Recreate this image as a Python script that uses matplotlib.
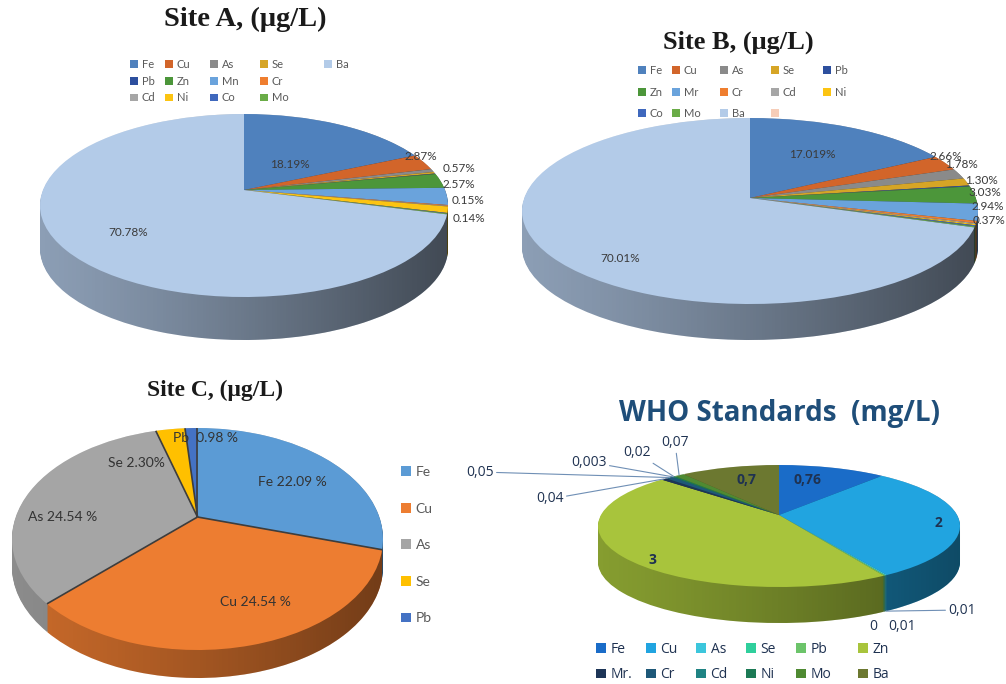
import numpy as np
import matplotlib
matplotlib.use("Agg")
import matplotlib.pyplot as plt
from matplotlib.transforms import Transform, Affine2D
from matplotlib.path import Path
from matplotlib.colors import to_rgb

# ---------------- data ----------------
a_elements = ['Fe', 'Cu', 'As', 'Se', 'Pb', 'Zn', 'Mn', 'Cr', 'Cd', 'Ni', 'Co', 'Mo', 'Ba']
a_values = [18.19, 2.87, 0.57, 0.30, 0.10, 2.57, 3.03, 0.15, 0.10, 1.10, 0.10, 0.14, 70.78]
a_labels = ['18.19%', '2.87%', '0.57%', '', '', '2.57%', '', '0.15%', '', '', '', '0.14%', '70.78%']

b_elements = ['Fe', 'Cu', 'As', 'Se', 'Pb', 'Zn', 'Mr', 'Cr', 'Cd', 'Ni', 'Co', 'Mo', 'Ba', '']
b_values = [17.019, 2.66, 1.78, 1.30, 0.18, 3.03, 2.94, 0.37, 0.18, 0.18, 0.18, 0.18, 70.01, 0.0]
b_labels = ['17.019%', '2.66%', '1.78%', '1.30%', '', '3.03%', '2.94%', '0.37%', '', '', '', '', '70.01%', '']

c_elements = ['Fe', 'Cu', 'As', 'Se', 'Pb']
c_values = [22.09, 24.54, 24.54, 2.30, 0.98]
c_labels = ['Fe 22.09 %', 'Cu 24.54 %', 'As 24.54 %', 'Se 2.30%', 'Pb  0.98 %']

who_elements = ['Fe', 'Cu', 'As', 'Se', 'Pb', 'Zn', 'Mr.', 'Cr', 'Cd', 'Ni', 'Mo', 'Ba']
who_values = [0.76, 2, 0.01, 0, 0.01, 3, 0.04, 0.05, 0.003, 0.02, 0.07, 0.7]
who_labels = ['0,76', '2', '0,01', '0', '0,01', '3', '0,04', '0,05', '0,003', '0,02', '0,07', '0,7']

# ---------------- styles ----------------
pal_ab = {'Fe': '#4f81bd', 'Cu': '#d2652a', 'As': '#8a8a8a', 'Se': '#d6a526', 'Pb': '#2d4f9e',
          'Zn': '#4c963a', 'Mn': '#6aa3dc', 'Mr': '#6aa3dc', 'Cr': '#ef7e2f', 'Cd': '#a6a6a6',
          'Ni': '#fcc412', 'Co': '#3f68bd', 'Mo': '#6aac47', 'Ba': '#b3cbe8', '': '#f6cdb8'}
pal_c = ['#5b9bd5', '#ed7d31', '#a5a5a5', '#ffc000', '#4472c4']
pal_who = ['#1a6cc8', '#21a4e0', '#3cc6dc', '#2fcf9c', '#6cc46a', '#a8c43c',
           '#1d3557', '#1e5878', '#1f8383', '#1c7a55', '#4f8a32', '#6c7830']

W, H = 1006, 684
fig = plt.figure(figsize=(W / 100, H / 100), dpi=100)
ax = fig.add_axes([0, 0, 1, 1])

serif = ['Liberation Serif', 'DejaVu Serif']
sans = ['Lato', 'DejaVu Sans']
narrow = ['Liberation Sans Narrow', 'Lato', 'DejaVu Sans']
osans = ['Open Sans', 'DejaVu Sans']


class Persp(Transform):
    """Simple perspective tilt of the unit disk (y>0 is the far side)."""
    input_dims = 2
    output_dims = 2
    is_separable = False
    has_inverse = False

    def __init__(self, b, ky):
        Transform.__init__(self)
        self.b = b
        self.ky = ky

    def transform_non_affine(self, values):
        v = np.asarray(values, dtype=float).reshape(-1, 2)
        w = 1.0 + self.b * v[:, 1]
        return np.column_stack([v[:, 0] / w, self.ky * v[:, 1] / w])


def geom(cx, ay, top, bottom, halfw):
    up, down = ay - top, bottom - ay
    b = (down - up) / (down + up)
    return dict(cx=cx, ay=ay, b=b, ky=up * (1 + b), rx=halfw * np.sqrt(1 - b * b), hw=halfw)


def tr_data(g, t=0.0):
    return Persp(g['b'], g['ky']) + Affine2D().scale(g['rx'], -1).translate(g['cx'], g['ay'] + t)


def tr(g, t=0.0):
    return tr_data(g, t) + ax.transData


def shade(c, f):
    return tuple(np.clip(np.array(to_rgb(c)) * f, 0, 1))


def draw_pie(g, values, colors, thick, fac, dark):
    side = [shade(c, fac) for c in colors]
    for t in np.arange(thick, 0, -1.0):
        ws, _ = ax.pie(values, colors=side, startangle=90, counterclock=False,
                       wedgeprops=dict(linewidth=0))
        for w in ws:
            w.set_transform(tr(g, t))
    # horizontal shading of the side (lighter left, darker right)
    circ = Path.unit_circle()
    subs = [Path(tr_data(g, t).transform(circ.vertices), circ.codes)
            for t in list(np.arange(0, thick, 4.0)) + [thick]]
    clip = Path.make_compound_path(*subs)
    ramp = np.zeros((1, 256, 4))
    ramp[..., 3] = np.linspace(0, dark, 256) ** 1.2
    x0, x1 = g['cx'] - g['hw'] - 3, g['cx'] + g['hw'] + 3
    y0, y1 = g['ay'] - 2 * g['ky'], g['ay'] + 3 * g['ky'] + thick
    im = ax.imshow(ramp, extent=(x0, x1, y1, y0), aspect='auto', interpolation='bilinear',
                   zorder=1)
    im.set_clip_path(clip, ax.transData)
    ws, _ = ax.pie(values, colors=colors, startangle=90, counterclock=False,
                   wedgeprops=dict(linewidth=0))
    for w in ws:
        w.set_transform(tr(g))
    return ws


def mid_angles(values):
    v = np.asarray(values, float)
    cum = np.cumsum(v) - v / 2
    return np.deg2rad(90 - 360 * cum / v.sum())


def grid_legend(rows, handle_of, x_cols, y_top, fs, pitch_pt, color, family):
    ncol = max(len(r) for r in rows)
    for j in range(ncol):
        hs, ls = [], []
        for r in rows:
            if j < len(r):
                hs.append(handle_of(r[j]))
                ls.append(r[j])
        fig.legend(hs, ls, loc='upper left', bbox_to_anchor=(x_cols[j] / W, 1 - y_top / H),
                   frameon=False, borderpad=0, borderaxespad=0, handlelength=0.7,
                   handleheight=0.7, handletextpad=0.35,
                   labelspacing=(pitch_pt - fs * 1.2) / fs,
                   prop=dict(size=fs, family=family), labelcolor=color)


# ---------------- Site A ----------------
gA = geom(244, 190, 114, 297, 204)
wA = draw_pie(gA, a_values, [pal_ab[e] for e in a_elements], 43, 0.78, 0.6)
ax.text(245, 19, 'Site A, (\u03bcg/L)', ha='center', va='center', fontsize=20.5,
        fontweight='bold', family=serif, color='#1a1a1a')
a_pos = {'Fe': (290, 164, 'center'), 'Ba': (128, 233, 'center'), 'Cu': (405, 157, 'left'),
         'As': (443, 169, 'left'), 'Zn': (443, 185, 'left'), 'Cr': (452, 201, 'left'),
         'Mo': (453, 219, 'left')}
for e, s in zip(a_elements, a_labels):
    if s:
        x, y, ha = a_pos[e]
        ax.text(x, y, s, ha=ha, va='center', fontsize=8.5, family=sans, color='#3a3a3a')
hA = dict(zip(a_elements, wA))
grid_legend([['Fe', 'Cu', 'As', 'Se', 'Ba'], ['Pb', 'Zn', 'Mn', 'Cr'], ['Cd', 'Ni', 'Co', 'Mo']],
            lambda e: hA[e], [130, 165, 210, 260, 324], 59, 8, 13.7, '#595959', sans)

# ---------------- Site B ----------------
gB = geom(750, 198, 118, 304, 228)
wB = draw_pie(gB, b_values, [pal_ab[e] for e in b_elements], 36, 0.78, 0.6)
ax.text(738, 42, 'Site B, (\u03bcg/L)', ha='center', va='center', fontsize=19,
        fontweight='bold', family=serif, color='#1a1a1a')
b_pos = {'Fe': (812, 154, 'center'), 'Ba': (620, 258, 'center'), 'Cu': (930, 156, 'left'),
         'As': (945, 165, 'left'), 'Se': (965, 180, 'left'), 'Zn': (968, 193, 'left'),
         'Mr': (972, 207, 'left'), 'Cr': (973, 221, 'left')}
for e, s in zip(b_elements, b_labels):
    if s:
        x, y, ha = b_pos[e]
        ax.text(x, y, s, ha=ha, va='center', fontsize=8.5, family=sans, color='#3a3a3a')
hB = dict(zip(b_elements, wB))
grid_legend([['Fe', 'Cu', 'As', 'Se', 'Pb'], ['Zn', 'Mr', 'Cr', 'Cd', 'Ni'], ['Co', 'Mo', 'Ba', '']],
            lambda e: hB[e], [638, 672, 720, 771, 823], 65, 8, 17.2, '#595959', sans)

# ---------------- Site C ----------------
gC = geom(197.5, 517, 428, 650, 185.5)
wC = draw_pie(gC, c_values, pal_c, 28, 0.85, 0.5)
bound = np.deg2rad(90 - 360 * np.concatenate([[0], np.cumsum(c_values)[:-1]]) / sum(c_values))
for a in bound:
    ax.plot([0, np.cos(a)], [0, np.sin(a)], transform=tr(gC), color='#3d3d3d', lw=1.2,
            solid_capstyle='butt')
ax.text(215, 390, 'Site C, (\u03bcg/L)', ha='center', va='center', fontsize=17,
        fontweight='bold', family=serif, color='#1a1a1a')
c_pos = [(292, 482), (255, 602), (63, 517), (136, 463), (206, 438)]
for (x, y), s in zip(c_pos, c_labels):
    ax.text(x, y, s, ha='center', va='center', fontsize=10, family=narrow, color='#333333')
grid_legend([[e] for e in c_elements], lambda e: wC[c_elements.index(e)], [401],
            466, 10, 29.7, '#595959', narrow)

# ---------------- WHO ----------------
gW = geom(779, 515, 465, 587, 181)
thW = 36
wW = draw_pie(gW, who_values, pal_who, thW, 0.8, 0.5)
ax.text(780, 413, 'WHO Standards  (mg/L)', ha='center', va='center', fontsize=20,
        fontweight='bold', family=osans, color='#1f4e79')
wtxt = dict(fontsize=10, family=osans, color='#1f3251')
inside = {'Fe': (808, 480), 'Ba': (747, 480), 'Cu': (938, 523), 'Zn': (652, 560)}
leader = {'Mr.': (550, 499), 'Cr': (480, 472), 'Cd': (589, 462), 'Ni': (637, 453),
          'Mo': (675, 443), 'As': (962, 610)}
plain = {'Se': (873, 627), 'Pb': (902, 627)}
angW = mid_angles(who_values)
for e, s, a in zip(who_elements, who_labels, angW):
    if e in inside:
        ax.text(*inside[e], s, ha='center', va='center', fontweight='bold', **wtxt)
    elif e in plain:
        ax.text(*plain[e], s, ha='center', va='center', **wtxt)
    elif e in leader:
        t = thW if e == 'As' else 0.0
        ax.annotate(s, xy=(np.cos(a), np.sin(a)), xycoords=tr(gW, t), xytext=leader[e],
                    textcoords='data', ha='center', va='center',
                    arrowprops=dict(arrowstyle='-', color='#6f8fb5', lw=0.8,
                                    shrinkA=0, shrinkB=0), **wtxt)
hW = dict(zip(who_elements, wW))
grid_legend([['Fe', 'Cu', 'As', 'Se', 'Pb', 'Zn'], ['Mr.', 'Cr', 'Cd', 'Ni', 'Mo', 'Ba']],
            lambda e: hW[e], [596, 646, 696, 746, 796, 858], 642, 10, 19.5, '#1f3251', osans)

ax.set_xlim(0, W)
ax.set_ylim(H, 0)
ax.set_aspect('auto')
ax.axis('off')
fig.savefig('out.png', dpi=100, facecolor='white')
